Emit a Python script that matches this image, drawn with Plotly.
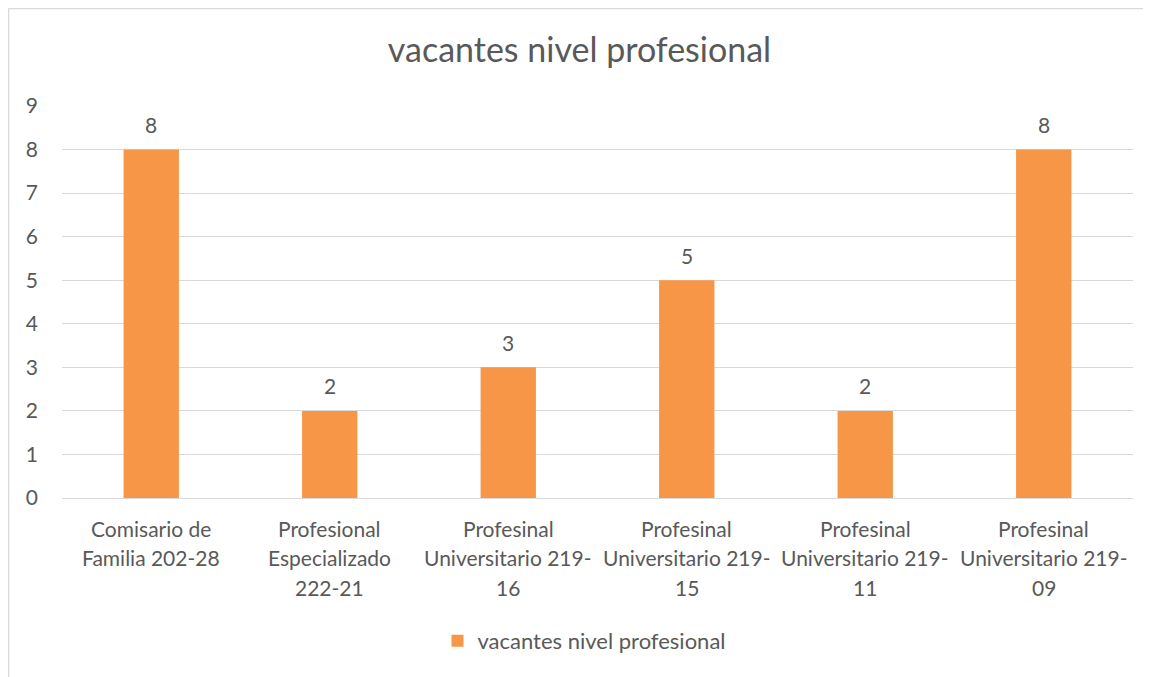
import plotly.graph_objects as go

categories = [
    "Comisario de<br>Familia 202-28",
    "Profesional<br>Especializado<br>222-21",
    "Profesinal<br>Universitario 219-<br>16",
    "Profesinal<br>Universitario 219-<br>15",
    "Profesinal<br>Universitario 219-<br>11",
    "Profesinal<br>Universitario 219-<br>09",
]
values = [8, 2, 3, 5, 2, 8]
series_name = "vacantes nivel profesional"
title_text = "vacantes nivel profesional"
y_ticks = list(range(0, 10))

BAR = "#F79646"
TXT = "#595959"
GRID = "#D9D9D9"
FONT = "Lato"
FS = 21

# page body has an 8px margin, so the figure is drawn 8px smaller
W, H = 1143, 669
L, T, PW, PH = 54, 98, 1071, 392

fig = go.Figure()
fig.add_trace(go.Bar(
    x=categories, y=values, name=series_name,
    marker=dict(color=BAR, line=dict(width=0)),
    width=0.31, showlegend=True,
))

annotations = []
for c, v in zip(categories, values):
    annotations.append(dict(
        x=c, y=v, xref="x", yref="y", text=str(v), showarrow=False,
        yanchor="middle", yshift=25, font=dict(family=FONT, size=FS, color=TXT)))
for c in categories:
    for i, line in enumerate(c.split("<br>")):
        annotations.append(dict(
            x=c, y=0, xref="x", yref="paper", text=line, showarrow=False,
            yanchor="middle", yshift=-30 - 29.5 * i,
            font=dict(family=FONT, size=FS, color=TXT)))

border = dict(color=GRID, width=1.5)
fig.update_layout(
    width=W, height=H,
    margin=dict(l=L, r=W - L - PW, t=T, b=H - T - PH, pad=0),
    paper_bgcolor="white", plot_bgcolor="white",
    font=dict(family=FONT, size=FS, color=TXT),
    title=dict(text=title_text, x=0.5, xanchor="center", y=1 - 42 / H, yanchor="middle",
               font=dict(family=FONT, size=34, color=TXT)),
    xaxis=dict(showticklabels=False, showgrid=False, showline=False, zeroline=False,
               fixedrange=True),
    yaxis=dict(range=[0, 9], tickvals=y_ticks, showgrid=True, gridcolor=GRID, gridwidth=1.3,
               zeroline=True, zerolinecolor=GRID, zerolinewidth=1.3, showline=False,
               ticklabelstandoff=23, tickfont=dict(family=FONT, size=FS, color=TXT)),
    legend=dict(orientation="h", x=0.5 - 13 / PW, xanchor="center", y=(490 - 633) / PH,
                yanchor="middle", font=dict(family=FONT, size=22, color=TXT), itemwidth=30),
    annotations=annotations,
    shapes=[
        dict(type="line", xref="paper", yref="paper",
             x0=(0.5 - L) / PW, x1=(1200 - L) / PW,
             y0=1 + (T - 0.5) / PH, y1=1 + (T - 0.5) / PH, line=border, layer="below"),
        dict(type="line", xref="paper", yref="paper",
             x0=(0.5 - L) / PW, x1=(0.5 - L) / PW,
             y0=(T + PH - 700) / PH, y1=1 + (T - 0.5) / PH, line=border, layer="below"),
    ],
)

fig.write_html("out.html")
